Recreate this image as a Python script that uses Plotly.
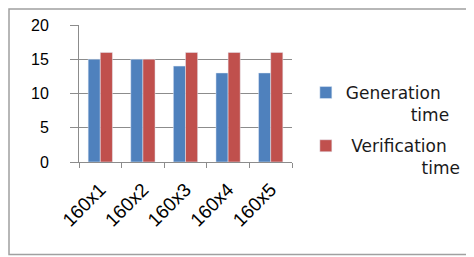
import plotly.graph_objects as go

categories = ["160x1", "160x2", "160x3", "160x4", "160x5"]
generation = [15, 15, 14, 13, 13]
verification = [16, 15, 16, 16, 16]
NB = "\u00a0"
names = ["Generation<br>" + NB * 12 + "time",
         NB + "Verification<br>" + NB * 14 + "time"]

fig = go.Figure()
fig.add_trace(go.Bar(x=categories, y=generation, name=names[0], marker_color="#4f81bd",
                     legendgroup="g"))
fig.add_trace(go.Bar(x=categories, y=verification, name=names[1], marker_color="#c0504d",
                     legendgroup="v"))

W, H = 466, 249
L, R, T, B = 71, 182, 17, 95
pw, ph = W - L - R, H - T - B

fig.update_layout(
    width=W, height=H,
    margin=dict(l=L, r=R, t=T, b=B, autoexpand=False),
    paper_bgcolor="white", plot_bgcolor="white",
    barmode="group", bargap=0.43, bargroupgap=0,
    font=dict(family="Liberation Sans, Arial, sans-serif", color="#000"),
    legend=dict(x=1.065, y=0.635, xanchor="left", yanchor="top", valign="top",
                font=dict(size=17, family="DejaVu Sans, Verdana, sans-serif", color="#1a1a1a"),
                tracegroupgap=6, itemwidth=30,
                bgcolor="rgba(0,0,0,0)"),
    xaxis=dict(showline=True, linecolor="#8c8c8c", ticks="outside", tickson="boundaries",
               ticklen=5, tickcolor="#8c8c8c", tickangle=-45, tickfont=dict(size=19),
               ticklabelstandoff=8, showgrid=False, automargin=False),
    yaxis=dict(range=[0, 20], dtick=5, showline=True, linecolor="#8c8c8c",
               gridcolor="#8c8c8c", ticks="outside", ticklen=8, tickcolor="#8c8c8c",
               tickfont=dict(size=16), ticklabelstandoff=18, zeroline=False, automargin=False),
    shapes=[dict(type="rect", xref="paper", yref="paper",
                 x0=(1 - L) / pw, x1=(W + 5 - L) / pw,
                 y0=(ph - 246.5 + T) / ph, y1=(ph + T - 1) / ph,
                 line=dict(color="#a0a0a0", width=1.5))],
)
fig.write_html("out.html")
